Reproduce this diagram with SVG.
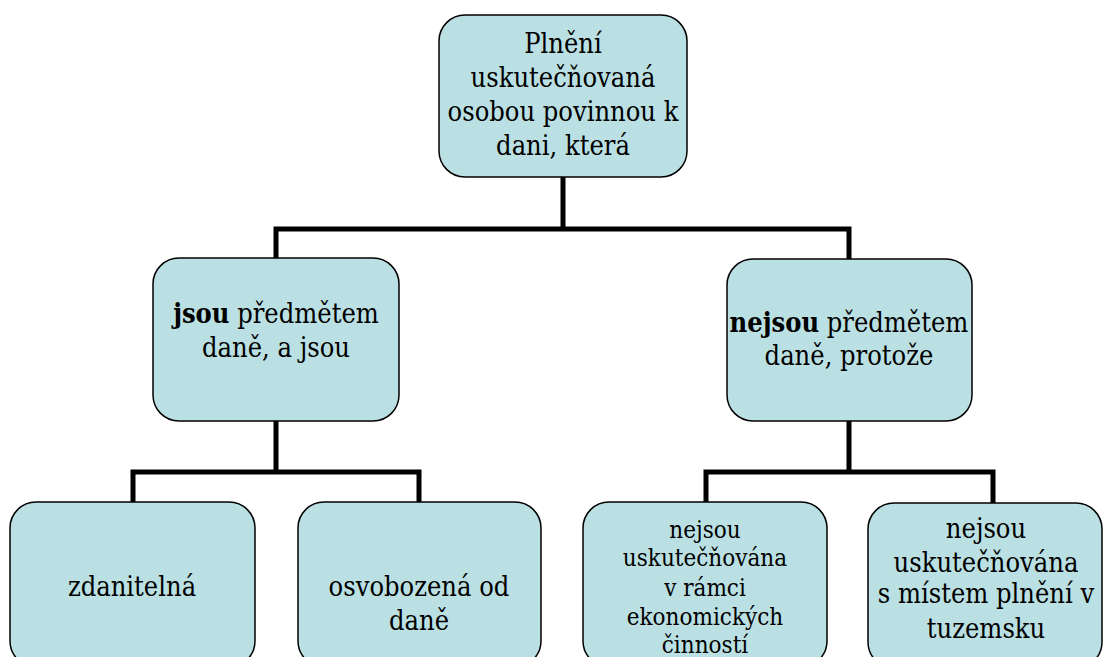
<svg xmlns="http://www.w3.org/2000/svg" width="1104" height="657" viewBox="0 0 1104 657">
  <style>
    .box { fill: #BBE0E3; stroke: #000000; stroke-width: 1.5; }
    .b { font-weight: bold; }
    .conn { fill: none; stroke: #000000; stroke-width: 5; stroke-linejoin: miter; }
  </style>
  <rect width="1104" height="657" fill="#ffffff"/>

  <!-- connectors -->
  <g id="connectors">
    <path class="conn" d="M563,177 V229 M276,258 V229 H849 V259"/>
    <path class="conn" d="M276,421 V472 M133,502 V472 H419 V502"/>
    <path class="conn" d="M849,421 V472 M706,502 V472 H993 V503"/>
  </g>

  <g font-family="'DejaVu Serif Condensed', 'DejaVu Serif', serif" font-size="27" fill="#000000" text-anchor="middle">
    <!-- root -->
    <g id="root">
      <rect class="box" x="439" y="15" width="248" height="162" rx="26"/>
      <text x="563" y="53">Plnění</text>
      <text x="563" y="87">uskutečňovaná</text>
      <text x="563" y="121">osobou povinnou k</text>
      <text x="563" y="155">dani, která</text>
    </g>

    <!-- second level -->
    <g id="subject">
      <rect class="box" x="153" y="258" width="246" height="163" rx="26"/>
      <text x="276" y="323"><tspan class="b">jsou</tspan> předmětem</text>
      <text x="276" y="357">daně, a jsou</text>
    </g>
    <g id="not-subject">
      <rect class="box" x="727" y="259" width="245" height="162" rx="26"/>
      <text x="849" y="332"><tspan class="b">nejsou</tspan> předmětem</text>
      <text x="849" y="365">daně, protože</text>
    </g>

    <!-- leaves -->
    <g id="taxable">
      <rect class="box" x="10" y="502" width="245" height="165" rx="26"/>
      <text x="132" y="596">zdanitelná</text>
    </g>
    <g id="exempt">
      <rect class="box" x="298" y="502" width="243" height="165" rx="26"/>
      <text x="419" y="596">osvobozená od</text>
      <text x="419" y="630">daně</text>
    </g>
    <g id="not-economic" font-size="24">
      <rect class="box" x="583" y="502" width="244" height="165" rx="26"/>
      <text x="705" y="538">nejsou</text>
      <text x="705" y="566">uskutečňována</text>
      <text x="705" y="596">v rámci</text>
      <text x="705" y="625">ekonomických</text>
      <text x="705" y="653">činností</text>
    </g>
    <g id="not-domestic">
      <rect class="box" x="868" y="503" width="234" height="165" rx="26"/>
      <text x="986" y="538">nejsou</text>
      <text x="986" y="572">uskutečňována</text>
      <text x="986" y="603">s místem plnění v</text>
      <text x="986" y="638">tuzemsku</text>
    </g>
  </g>
</svg>
